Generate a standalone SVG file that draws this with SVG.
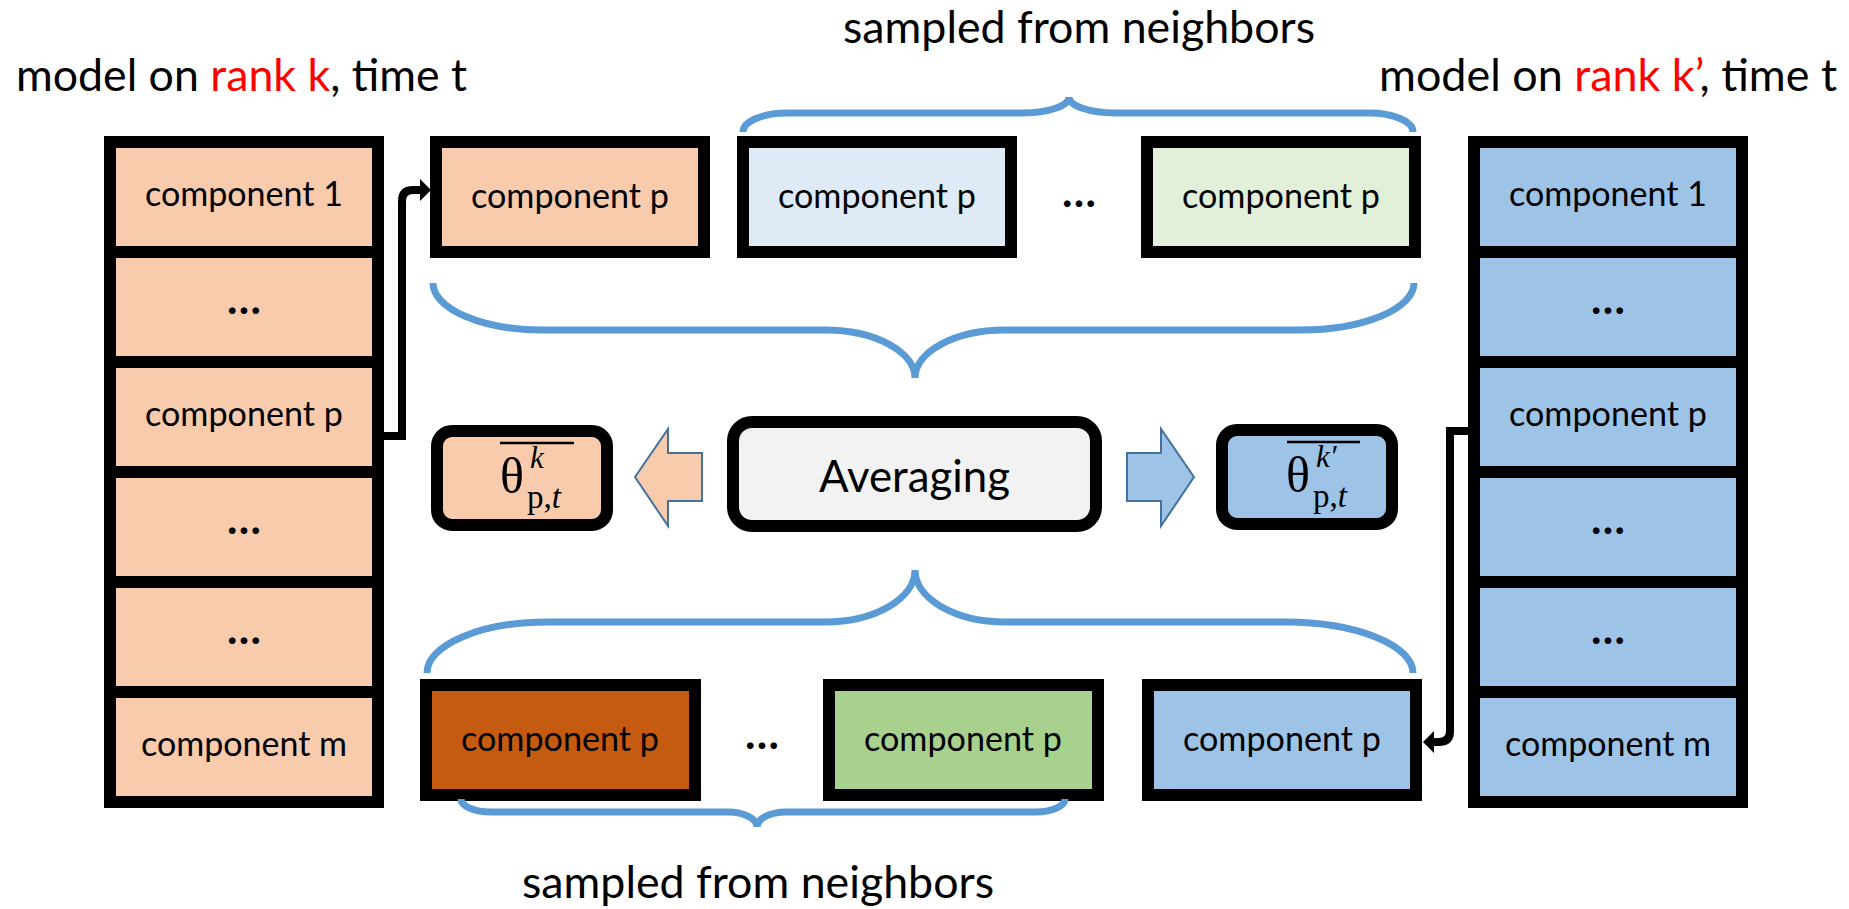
<svg xmlns="http://www.w3.org/2000/svg" width="1849" height="909" viewBox="0 0 1849 909">
<style>
.cell{stroke:#000;stroke-width:12}
.peach{fill:#F8CBAD}
.blue{fill:#9DC3E6}
.lblue{fill:#DEEBF7}
.lgreen{fill:#E2F0D9}
.dorange{fill:#C55A11}
.green{fill:#A9D18E}
.grey{fill:#F2F2F2}
.lbl{font-family:Lato,"Liberation Sans",sans-serif;font-size:35px;fill:#000;text-anchor:middle}
.dots{font-family:Lato,"Liberation Sans",sans-serif;font-size:44px;font-weight:700;fill:#000;text-anchor:middle}
.big{font-family:Lato,"Liberation Sans",sans-serif;font-size:45px;fill:#000}
.red{fill:#FF0000}
.brace{fill:none;stroke:#5B9BD5;stroke-width:7}
.conn{fill:none;stroke:#000;stroke-width:8}
.fat{stroke:#41719C;stroke-width:2}
.math{font-family:"Liberation Serif","DejaVu Serif",serif;fill:#000}
.it{font-style:italic}
</style>
<defs>
<marker id="ah" markerUnits="userSpaceOnUse" viewBox="0 0 11 22" markerWidth="11" markerHeight="22" refX="0" refY="11" orient="auto">
<path d="M0,0 L11,11 L0,22 z" fill="#000"/>
</marker>
</defs>

<text class="big" x="16" y="91" textLength="451" lengthAdjust="spacingAndGlyphs">model on <tspan class="red">rank k</tspan>, time t</text>
<text class="big" x="1379" y="91" textLength="458" lengthAdjust="spacingAndGlyphs">model on <tspan class="red">rank k’</tspan>, time t</text>
<text class="big" x="843" y="43" textLength="472" lengthAdjust="spacingAndGlyphs">sampled from neighbors</text>
<text class="big" x="522" y="898" textLength="472" lengthAdjust="spacingAndGlyphs">sampled from neighbors</text>

<g id="left-model">
<rect class="cell peach" x="110" y="142" width="268" height="110"/>
<rect class="cell peach" x="110" y="252" width="268" height="110"/>
<rect class="cell peach" x="110" y="362" width="268" height="110"/>
<rect class="cell peach" x="110" y="472" width="268" height="110"/>
<rect class="cell peach" x="110" y="582" width="268" height="110"/>
<rect class="cell peach" x="110" y="692" width="268" height="110"/>
<text class="lbl" x="244" y="206" textLength="198" lengthAdjust="spacingAndGlyphs">component 1</text>
<text class="dots" x="244" y="314">…</text>
<text class="lbl" x="244" y="426" textLength="198" lengthAdjust="spacingAndGlyphs">component p</text>
<text class="dots" x="244" y="534">…</text>
<text class="dots" x="244" y="644">…</text>
<text class="lbl" x="244" y="756" textLength="206" lengthAdjust="spacingAndGlyphs">component m</text>
</g>

<g id="right-model">
<rect class="cell blue" x="1474" y="142" width="268" height="110"/>
<rect class="cell blue" x="1474" y="252" width="268" height="110"/>
<rect class="cell blue" x="1474" y="362" width="268" height="110"/>
<rect class="cell blue" x="1474" y="472" width="268" height="110"/>
<rect class="cell blue" x="1474" y="582" width="268" height="110"/>
<rect class="cell blue" x="1474" y="692" width="268" height="110"/>
<text class="lbl" x="1608" y="206" textLength="198" lengthAdjust="spacingAndGlyphs">component 1</text>
<text class="dots" x="1608" y="314">…</text>
<text class="lbl" x="1608" y="426" textLength="198" lengthAdjust="spacingAndGlyphs">component p</text>
<text class="dots" x="1608" y="534">…</text>
<text class="dots" x="1608" y="644">…</text>
<text class="lbl" x="1608" y="756" textLength="206" lengthAdjust="spacingAndGlyphs">component m</text>
</g>

<g id="top-own">
<rect class="cell peach" x="436" y="142" width="268" height="110"/>
<text class="lbl" x="570" y="208" textLength="198" lengthAdjust="spacingAndGlyphs">component p</text>
</g>
<g id="top-neighbor-1">
<rect class="cell lblue" x="743" y="142" width="268" height="110"/>
<text class="lbl" x="877" y="208" textLength="198" lengthAdjust="spacingAndGlyphs">component p</text>
</g>
<text class="dots" x="1079" y="207">…</text>
<g id="top-neighbor-2">
<rect class="cell lgreen" x="1147" y="142" width="268" height="110"/>
<text class="lbl" x="1281" y="208" textLength="198" lengthAdjust="spacingAndGlyphs">component p</text>
</g>

<g id="bottom-neighbor-1">
<rect class="cell dorange" x="426" y="685" width="269" height="110"/>
<text class="lbl" x="560" y="751" textLength="198" lengthAdjust="spacingAndGlyphs">component p</text>
</g>
<text class="dots" x="762" y="749">…</text>
<g id="bottom-neighbor-2">
<rect class="cell green" x="829" y="685" width="269" height="110"/>
<text class="lbl" x="963" y="751" textLength="198" lengthAdjust="spacingAndGlyphs">component p</text>
</g>
<g id="bottom-own">
<rect class="cell blue" x="1148" y="685" width="268" height="110"/>
<text class="lbl" x="1282" y="751" textLength="198" lengthAdjust="spacingAndGlyphs">component p</text>
</g>

<g id="averaging">
<rect class="cell grey" x="733" y="422" width="363" height="104" rx="19" ry="19"/>
<text class="big" x="914.5" y="492" text-anchor="middle" textLength="191" lengthAdjust="spacingAndGlyphs">Averaging</text>
</g>

<g id="theta-k">
<rect class="cell peach" x="437" y="431" width="170" height="94" rx="15" ry="15"/>
<line x1="500" y1="443" x2="574" y2="443" stroke="#000" stroke-width="2.5"/>
<text class="math" x="500" y="493" font-size="50">θ<tspan class="it" x="530" y="468" font-size="31">k</tspan><tspan x="527" y="508" font-size="33">p,</tspan><tspan class="it" font-size="33">t</tspan></text>
</g>

<g id="theta-k-prime">
<rect class="cell blue" x="1222" y="430" width="170" height="94" rx="15" ry="15"/>
<line x1="1287" y1="442" x2="1360" y2="442" stroke="#000" stroke-width="2.5"/>
<text class="math" x="1286" y="492" font-size="50">θ<tspan class="it" x="1316" y="467" font-size="31">k′</tspan><tspan x="1313" y="507" font-size="33">p,</tspan><tspan class="it" font-size="33">t</tspan></text>
</g>

<g id="connectors">
<path class="conn" d="M384,436 H402 V201 Q402,190 413,190 H420" marker-end="url(#ah)"/>
<path class="conn" d="M1468,431 H1450 V731 Q1450,742 1439,742 H1434" marker-end="url(#ah)"/>
<polygon class="fat peach" points="635,477 668,429 668,453 702,453 702,501 668,501 668,526"/>
<polygon class="fat blue" points="1194,477 1161,429 1161,453 1127,453 1127,501 1161,501 1161,526"/>
<path class="brace" d="M743,132 A44,19 0 0 1 787,113 H1023 A46,16 0 0 0 1069,97 A46,16 0 0 0 1115,113 H1369 A44,19 0 0 1 1413,132"/>
<path class="brace" d="M433,283 A110,47 0 0 0 543,330 H825 A90,48 0 0 1 915,378 A90,48 0 0 1 1005,330 H1300 A114,47 0 0 0 1414,283"/>
<path class="brace" d="M427,673 A120,51 0 0 1 547,622 H825 A90,52 0 0 0 915,570 A90,52 0 0 0 1005,622 H1285 A128,51 0 0 1 1413,673"/>
<path class="brace" d="M461,799 A30,13 0 0 0 491,812 H728 A29,15 0 0 1 757,827 A29,15 0 0 1 786,812 H1035 A30,13 0 0 0 1065,799"/>
</g>
</svg>
